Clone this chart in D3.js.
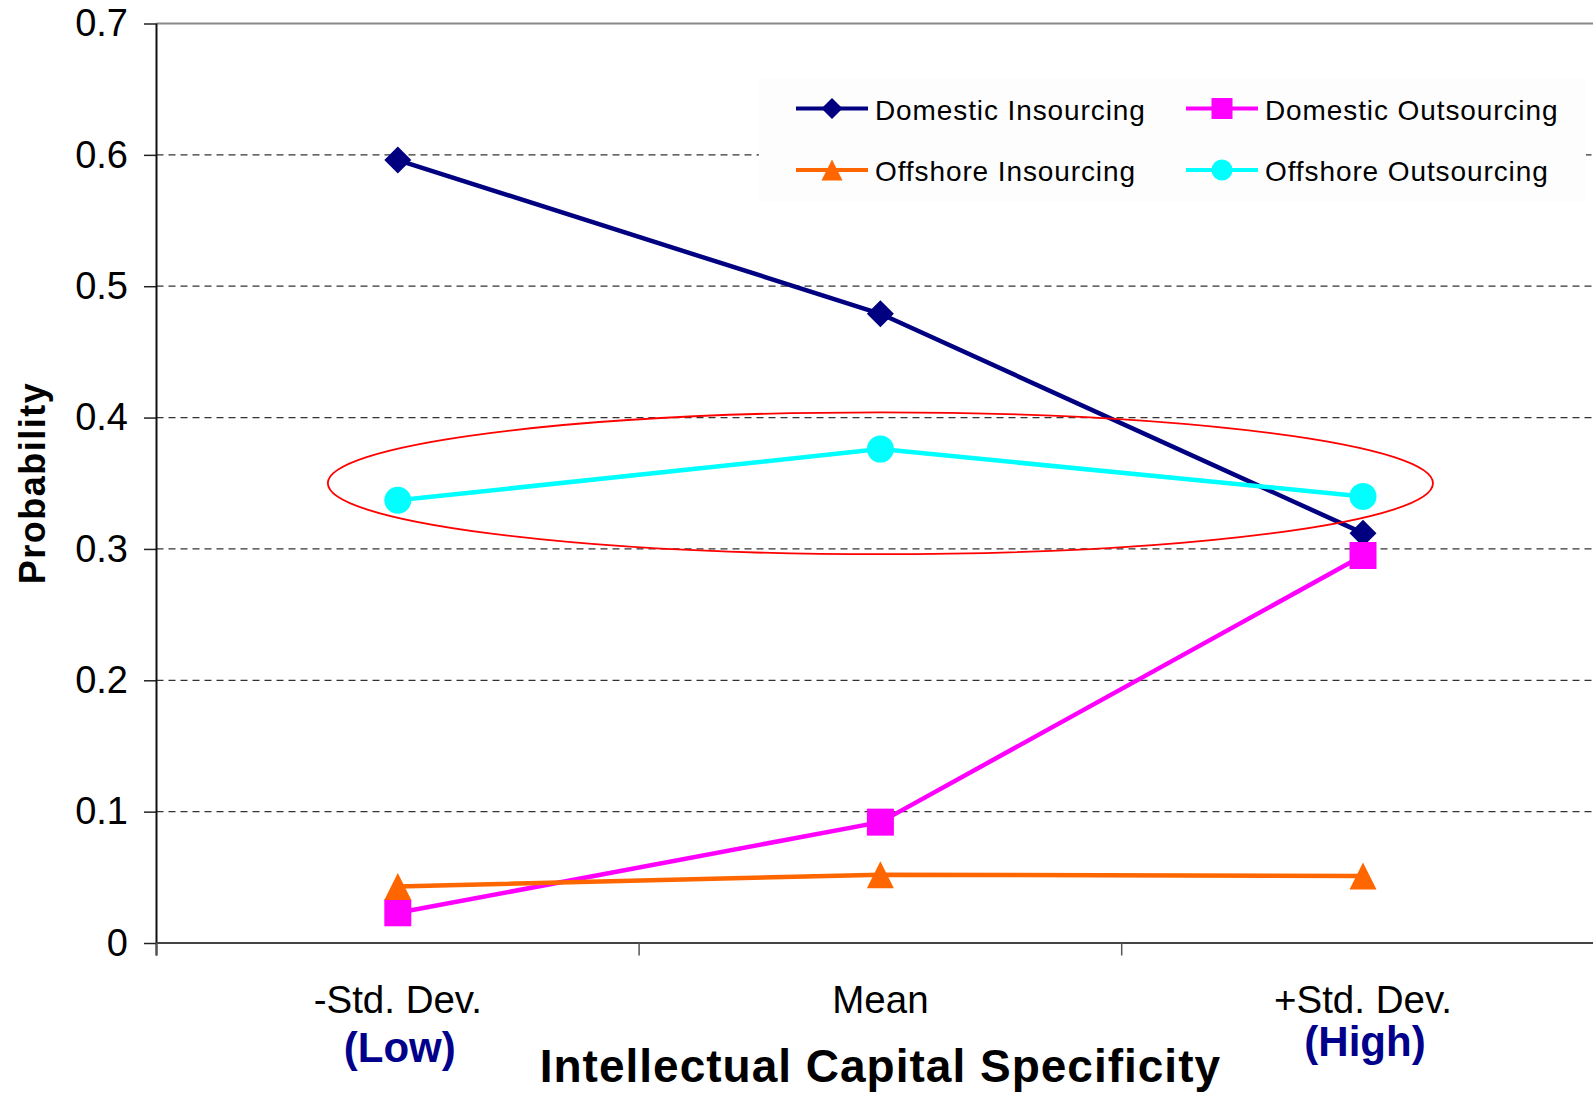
<!DOCTYPE html>
<html>
<head>
<meta charset="utf-8">
<script src="https://cdn.jsdelivr.net/npm/d3@7"></script>
<style>
  html, body { margin: 0; padding: 0; background: #ffffff; }
  svg { display: block; font-family: "Liberation Sans", Arial, Helvetica, sans-serif; }
</style>
</head>
<body>
<svg id="chart" width="1593" height="1093"></svg>
<script>
// Predicted probabilities by level of intellectual capital specificity
const categories = ["-Std. Dev.", "Mean", "+Std. Dev."];
const categoryNotes = ["(Low)", "", "(High)"];
const domesticInsourcing  = [0.596, 0.479, 0.312];
const domesticOutsourcing = [0.023, 0.092, 0.295];
const offshoreInsourcing  = [0.043, 0.052, 0.051];
const offshoreOutsourcing = [0.337, 0.376, 0.340];
const yTicks = [0, 0.1, 0.2, 0.3, 0.4, 0.5, 0.6, 0.7];

const series = [
  { name: "Domestic Insourcing",  values: domesticInsourcing,  color: "#000080", marker: "diamond" },
  { name: "Domestic Outsourcing", values: domesticOutsourcing, color: "#FF00FF", marker: "square" },
  { name: "Offshore Insourcing",  values: offshoreInsourcing,  color: "#FF6600", marker: "triangle" },
  { name: "Offshore Outsourcing", values: offshoreOutsourcing, color: "#00FFFF", marker: "circle" }
];

const svg = d3.select("#chart");
const W = 1593, H = 1093;

// Plot area: the category band continues past the right edge of the page
const plotLeft = 156.5, step = 482.6;
const x = d3.scaleBand().domain(categories).range([plotLeft, plotLeft + step * categories.length]).padding(0);
const y = d3.scaleLinear().domain([0, 0.7]).range([943, 23.5]);
const cx = c => x(c) + x.bandwidth() / 2;

// Horizontal dashed gridlines
svg.append("g").selectAll("line")
  .data(yTicks.filter(t => t > 0 && t < 0.7))
  .join("line")
  .attr("x1", plotLeft).attr("x2", W)
  .attr("y1", d => y(d)).attr("y2", d => y(d))
  .attr("stroke", "#333").attr("stroke-width", 1.3)
  .attr("stroke-dasharray", "7,5");

// Top border of the plot area
svg.append("line")
  .attr("x1", plotLeft).attr("x2", W)
  .attr("y1", y(0.7)).attr("y2", y(0.7))
  .attr("stroke", "#888").attr("stroke-width", 2);

// Y axis
const yAxis = d3.axisLeft(y)
  .tickValues(yTicks)
  .tickSize(12.5)
  .tickPadding(16)
  .tickFormat(d => d === 0 ? "0" : d3.format(".1f")(d));
const gy = svg.append("g").attr("transform", `translate(${plotLeft},0)`).call(yAxis);
gy.select(".domain").remove();
gy.selectAll(".tick line").attr("stroke", "#222").attr("stroke-width", 1.5);
gy.selectAll(".tick text")
  .attr("font-size", 38).attr("fill", "#000")
  .attr("font-family", "'Liberation Sans', Arial, sans-serif");
svg.append("line")
  .attr("x1", plotLeft).attr("x2", plotLeft)
  .attr("y1", y(0.7)).attr("y2", y(0) + 12.5)
  .attr("stroke", "#111").attr("stroke-width", 2);

// X axis: baseline with ticks at band boundaries
svg.append("line")
  .attr("x1", plotLeft).attr("x2", W)
  .attr("y1", y(0)).attr("y2", y(0))
  .attr("stroke", "#444").attr("stroke-width", 2);
svg.append("g").selectAll("line")
  .data(categories)
  .join("line")
  .attr("x1", d => x(d)).attr("x2", d => x(d))
  .attr("y1", y(0)).attr("y2", y(0) + 12.5)
  .attr("stroke", "#555").attr("stroke-width", 1.5);

// Category labels
svg.append("g").selectAll("text")
  .data(categories)
  .join("text")
  .attr("x", d => cx(d)).attr("y", 1012.5)
  .attr("text-anchor", "middle")
  .attr("font-size", 38.5).attr("fill", "#000")
  .text(d => d);

// Low / High qualifiers under the outer categories
const noteY = [1062, 0, 1056];
svg.append("g").selectAll("text")
  .data(categories.map((c, i) => ({ c, note: categoryNotes[i], yy: noteY[i] })).filter(d => d.note))
  .join("text")
  .attr("x", d => cx(d.c) + 2).attr("y", d => d.yy)
  .attr("text-anchor", "middle")
  .attr("font-size", 42).attr("font-weight", "bold").attr("fill", "#00008B")
  .text(d => d.note);

// Axis titles
svg.append("text")
  .attr("x", cx("Mean")).attr("y", 1082)
  .attr("text-anchor", "middle")
  .attr("font-size", 46).attr("font-weight", "bold").attr("letter-spacing", 1)
  .attr("fill", "#000")
  .text("Intellectual Capital Specificity");

svg.append("text")
  .attr("transform", "translate(45,483) rotate(-90)")
  .attr("text-anchor", "middle")
  .attr("font-size", 36).attr("font-weight", "bold").attr("letter-spacing", 1.5)
  .attr("fill", "#000")
  .text("Probability");

// Marker shapes
function markerPath(type, s) {
  const h = s / 2;
  if (type === "diamond") return `M0,${-h}L${h},0L0,${h}L${-h},0Z`;
  if (type === "square") return `M${-h},${-h}H${h}V${h}H${-h}Z`;
  if (type === "triangle") return `M0,${-h}L${h},${h}L${-h},${h}Z`;
  return d3.symbol(d3.symbolCircle, Math.PI * h * h)();
}

// Legend
const legend = svg.append("g");
legend.append("rect")
  .attr("x", 759).attr("y", 78).attr("width", 827).attr("height", 124)
  .attr("fill", "#fdfdfd");
const legendCols = [796, 1186];
const legendRows = [108.5, 170];
const legendItems = legend.selectAll("g.item")
  .data(series)
  .join("g")
  .attr("class", "item")
  .attr("transform", (d, i) => `translate(${legendCols[i % 2]},${legendRows[Math.floor(i / 2)]})`);
legendItems.append("line")
  .attr("x1", 0).attr("x2", 72).attr("y1", 0).attr("y2", 0)
  .attr("stroke", d => d.color).attr("stroke-width", 4);
legendItems.append("path")
  .attr("transform", "translate(36,0)")
  .attr("d", d => markerPath(d.marker, 21))
  .attr("fill", d => d.color);
legendItems.append("text")
  .attr("x", 79).attr("y", 11)
  .attr("font-size", 28).attr("letter-spacing", 0.9).attr("fill", "#000")
  .text(d => d.name);

// Series lines and markers
const line = d3.line().x(d => cx(d.c)).y(d => y(d.v));
const plot = svg.append("g");
series.forEach(s => {
  const pts = categories.map((c, i) => ({ c, v: s.values[i] }));
  const g = plot.append("g");
  g.append("path")
    .datum(pts)
    .attr("d", line)
    .attr("fill", "none")
    .attr("stroke", s.color).attr("stroke-width", 4.5)
    .attr("stroke-linejoin", "round");
  g.selectAll("path.mk")
    .data(pts)
    .join("path")
    .attr("class", "mk")
    .attr("transform", d => `translate(${cx(d.c)},${y(d.v)})`)
    .attr("d", markerPath(s.marker, 27))
    .attr("fill", s.color);
});

// Highlight ring around the offshore outsourcing series
const ringCenter = 0.35, ringHalfHeight = 0.054, ringHalfSteps = 1.145;
svg.append("ellipse")
  .attr("cx", cx("Mean"))
  .attr("cy", y(ringCenter))
  .attr("rx", ringHalfSteps * x.step())
  .attr("ry", y(ringCenter - ringHalfHeight) - y(ringCenter))
  .attr("fill", "none")
  .attr("stroke", "#FF0000").attr("stroke-width", 1.8);
</script>
</body>
</html>
